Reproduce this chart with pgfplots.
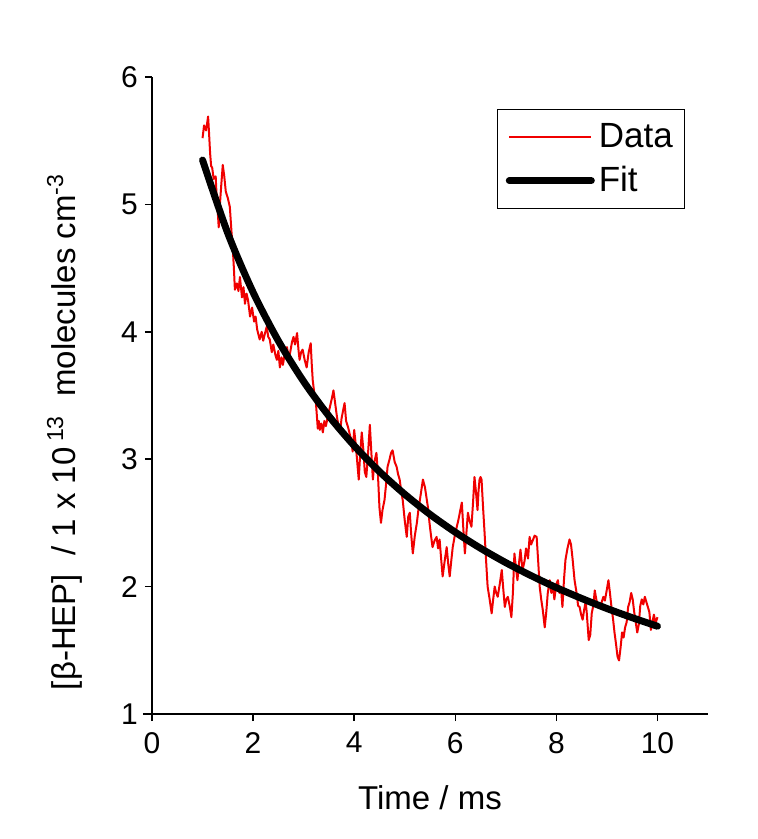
\documentclass[border=0pt]{standalone}
\usepackage{fontspec}
\setmainfont{Liberation Sans}
\usepackage{pgfplots}
\pgfplotsset{compat=1.18}
\definecolor{datared}{RGB}{240,0,0}
\begin{document}
\begin{tikzpicture}[x=1pt,y=1pt]
\useasboundingbox (-76,-62.5) rectangle (303,357);
\begin{axis}[
  at={(0,0)}, anchor=south west,
  scale only axis, width=278pt, height=318.5pt,
  xmin=0, xmax=11, ymin=1, ymax=6,
  axis x line=bottom, axis y line=left,
  axis line style={-, line width=0.75pt},
  x axis line style={shorten <=-4.5pt},
  y axis line style={shorten <=-1.5pt},
  hide obscured x ticks=false, hide obscured y ticks=false,
  xtick={0,2,4,6,8,10}, ytick={1,2,3,4,5,6},
  minor tick num=0,
  tick align=outside, major tick length=3.5pt,
  tick style={black, line width=0.75pt},
  /pgf/number format/assume math mode=true,
  ticklabel style={font=\fontsize{15}{17}\selectfont},
  xticklabel style={yshift=-2pt},
  every axis x label/.style={at={(axis description cs:0.5,0)}, anchor=center, yshift=-42pt},
  every axis y label/.style={at={(axis description cs:-0.157,0.443)}, anchor=center, rotate=90},
  label style={font=\fontsize{16.5}{19}\selectfont},
  xlabel={Time / ms},
  ylabel={[β-HEP]\ \ / 1 x 10\,\textsuperscript{13}\ \ molecules cm\textsuperscript{-3}},
  legend style={at={(axis cs:10.55,5.75)}, anchor=north east, draw=black, line width=0.5pt,
    font=\fontsize{17.5}{21}\selectfont, inner xsep=4pt, inner ysep=5pt,
    nodes={inner sep=2pt}, row sep=4pt, legend cell align=left,
    /tikz/every even column/.append style={column sep=9pt}},
  legend image code/.code={\draw[#1] (0pt,0pt) -- (41pt,0pt);},
]
\addplot[datared, line width=1pt, line join=round] coordinates {
(1.00,5.52) (1.03,5.62) (1.07,5.58) (1.11,5.69) (1.13,5.55) (1.15,5.40) (1.17,5.30) (1.19,5.29)
(1.22,5.20) (1.26,5.22) (1.28,5.05) (1.30,4.95) (1.32,4.82) (1.34,4.98) (1.37,5.15) (1.40,5.31)
(1.43,5.22) (1.46,5.10) (1.50,5.05) (1.54,4.98) (1.57,4.80) (1.60,4.64) (1.62,4.50) (1.64,4.33)
(1.68,4.38) (1.71,4.32) (1.74,4.43) (1.78,4.27) (1.81,4.35) (1.84,4.22) (1.87,4.30) (1.90,4.25)
(1.94,4.12) (1.98,4.19) (2.02,4.08) (2.05,4.12) (2.08,4.02) (2.13,3.94) (2.17,4.00) (2.20,3.93)
(2.23,3.98) (2.27,4.04) (2.30,3.96) (2.33,3.94) (2.37,3.84) (2.40,3.90) (2.44,3.82) (2.47,3.78)
(2.50,3.85) (2.53,3.72) (2.56,3.80) (2.59,3.74) (2.63,3.84) (2.67,3.88) (2.70,3.80) (2.73,3.83)
(2.77,3.92) (2.80,3.96) (2.83,3.90) (2.87,3.99) (2.90,3.85) (2.92,3.78) (2.95,3.84) (2.98,3.86)
(3.02,3.78) (3.06,3.72) (3.10,3.84) (3.14,3.91) (3.16,3.75) (3.18,3.62) (3.21,3.52) (3.24,3.46)
(3.26,3.35) (3.28,3.24) (3.30,3.30) (3.32,3.23) (3.35,3.28) (3.38,3.21) (3.41,3.30) (3.44,3.26)
(3.48,3.34) (3.52,3.41) (3.56,3.48) (3.59,3.54) (3.62,3.45) (3.66,3.33) (3.69,3.26) (3.72,3.21)
(3.75,3.32) (3.78,3.38) (3.81,3.44) (3.84,3.30) (3.88,3.25) (3.91,3.20) (3.94,3.15) (3.97,3.06)
(4.00,3.23) (4.03,3.12) (4.06,2.98) (4.09,2.84) (4.12,3.05) (4.15,3.21) (4.18,3.08) (4.21,2.90)
(4.24,2.86) (4.27,3.02) (4.31,3.27) (4.34,3.05) (4.37,2.84) (4.40,2.98) (4.44,3.05) (4.47,2.88)
(4.50,2.62) (4.53,2.50) (4.56,2.60) (4.60,2.68) (4.63,2.80) (4.66,2.94) (4.70,3.00) (4.73,3.05)
(4.76,3.07) (4.80,2.98) (4.84,2.94) (4.87,2.88) (4.90,2.84) (4.93,2.75) (4.96,2.68) (5.00,2.52)
(5.04,2.39) (5.07,2.55) (5.10,2.58) (5.13,2.40) (5.16,2.26) (5.20,2.40) (5.24,2.50) (5.27,2.60)
(5.30,2.68) (5.33,2.76) (5.36,2.84) (5.40,2.78) (5.43,2.70) (5.46,2.62) (5.49,2.50) (5.52,2.40)
(5.55,2.31) (5.59,2.36) (5.63,2.39) (5.66,2.30) (5.69,2.37) (5.72,2.22) (5.75,2.08) (5.79,2.20)
(5.83,2.31) (5.86,2.18) (5.89,2.08) (5.92,2.20) (5.95,2.31) (5.99,2.40) (6.03,2.47) (6.06,2.52)
(6.09,2.58) (6.13,2.66) (6.16,2.45) (6.19,2.26) (6.22,2.42) (6.25,2.58) (6.28,2.52) (6.32,2.47)
(6.35,2.65) (6.38,2.86) (6.41,2.74) (6.44,2.60) (6.46,2.75) (6.48,2.84) (6.50,2.86) (6.52,2.84)
(6.55,2.62) (6.58,2.42) (6.61,2.20) (6.64,2.00) (6.68,1.90) (6.72,1.79) (6.75,1.90) (6.78,2.00)
(6.81,1.95) (6.84,1.92) (6.88,2.02) (6.92,2.13) (6.95,1.98) (6.98,1.84) (7.01,1.90) (7.04,1.92)
(7.08,1.84) (7.11,1.76) (7.14,1.95) (7.17,2.26) (7.20,2.15) (7.23,2.05) (7.26,2.18) (7.29,2.29)
(7.33,2.13) (7.37,2.20) (7.40,2.30) (7.44,2.22) (7.47,2.39) (7.50,2.33) (7.53,2.36) (7.57,2.40)
(7.61,2.39) (7.64,2.20) (7.67,2.00) (7.70,1.90) (7.73,1.82) (7.77,1.68) (7.80,1.80) (7.83,1.95)
(7.87,2.05) (7.90,1.95) (7.93,2.02) (7.96,1.90) (8.00,2.02) (8.03,2.05) (8.06,1.95) (8.09,2.00)
(8.12,1.84) (8.15,2.05) (8.18,2.21) (8.22,2.30) (8.26,2.37) (8.29,2.33) (8.32,2.22) (8.36,2.05)
(8.40,1.95) (8.43,1.85) (8.46,1.84) (8.49,1.78) (8.52,1.74) (8.55,1.82) (8.58,1.88) (8.60,1.80)
(8.64,1.58) (8.67,1.62) (8.70,1.79) (8.73,1.85) (8.76,1.97) (8.79,1.90) (8.82,1.84) (8.85,1.86)
(8.89,1.87) (8.93,1.92) (8.96,1.89) (9.00,1.98) (9.03,2.05) (9.06,1.95) (9.09,1.84) (9.12,1.75)
(9.15,1.64) (9.18,1.55) (9.21,1.45) (9.24,1.42) (9.27,1.52) (9.30,1.64) (9.33,1.60) (9.36,1.68)
(9.39,1.72) (9.42,1.84) (9.45,1.88) (9.48,1.95) (9.51,1.90) (9.54,1.80) (9.57,1.72) (9.60,1.64)
(9.63,1.70) (9.66,1.85) (9.69,1.90) (9.72,1.86) (9.75,1.92) (9.78,1.88) (9.81,1.84) (9.84,1.80)
(9.87,1.66) (9.90,1.72) (9.93,1.78) (9.96,1.71) (10.00,1.76)
};
\addlegendentry{Data}
\addplot[black, line width=3.5pt, smooth, line cap=round] coordinates {
(1.0,5.348) (1.5,4.773) (2.0,4.310) (2.5,3.929) (3.0,3.610) (3.5,3.339) (4.0,3.106)
(4.5,2.903) (5.0,2.725) (5.5,2.567) (6.0,2.427) (6.5,2.301) (7.0,2.188) (7.5,2.086)
(8.0,1.992) (8.5,1.907) (9.0,1.828) (9.5,1.756) (10.0,1.689)
};
\addlegendentry{Fit}
\end{axis}
\end{tikzpicture}
\end{document}
